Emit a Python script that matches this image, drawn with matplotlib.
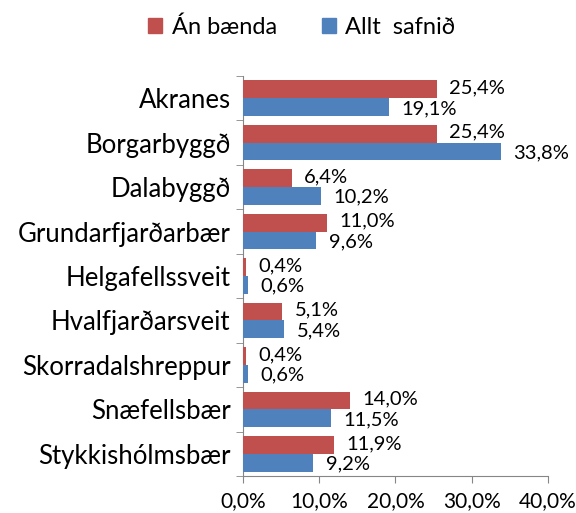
import matplotlib
matplotlib.use("Agg")
import matplotlib.pyplot as plt
import numpy as np
from matplotlib.patches import Patch
from matplotlib.ticker import FuncFormatter, MultipleLocator, FixedLocator

RED = "#C0504D"
BLUE = "#4F81BD"
AXIS = "#868686"

categories = ["Akranes", "Borgarbyggð", "Dalabyggð", "Grundarfjarðarbær",
              "Helgafellssveit", "Hvalfjarðarsveit", "Skorradalshreppur",
              "Snæfellsbær", "Stykkishólmsbær"]
an_baenda = [25.4, 25.4, 6.4, 11.0, 0.4, 5.1, 0.4, 14.0, 11.9]
allt_safnid = [19.1, 33.8, 10.2, 9.6, 0.6, 5.4, 0.6, 11.5, 9.2]
series_names = ["Án bænda", "Allt  safnið"]

plt.rcParams.update({
    "font.family": ["Lato", "DejaVu Sans"],
    "font.size": 14,
})

fig = plt.figure(figsize=(5.76, 5.13), dpi=100)
ax = fig.add_axes([0.422, 0.072, 0.529, 0.780])

n = len(categories)
y = np.arange(n)
h = 0.4
bars_r = ax.barh(y - h / 2, an_baenda, height=h, color=RED, zorder=3)
bars_b = ax.barh(y + h / 2, allt_safnid, height=h, color=BLUE, zorder=3)


def pct(v):
    return f"{v:.1f}%".replace(".", ",")


for bars, vals, dy in ((bars_r, an_baenda, 1), (bars_b, allt_safnid, -1)):
    for b, v in zip(bars, vals):
        ax.annotate(pct(v), (v, b.get_y() + b.get_height() / 2),
                    xytext=(9, dy), textcoords="offset points",
                    ha="left", va="center", fontsize=14.5)

ax.set_ylim(n - 0.5, -0.5)
ax.set_xlim(0, 40)
ax.xaxis.set_major_locator(MultipleLocator(10))
ax.xaxis.set_major_formatter(FuncFormatter(lambda v, p: pct(v)))
ax.set_yticks(y)
ax.set_yticklabels(categories, fontsize=18.5)
ax.yaxis.set_minor_locator(FixedLocator(np.arange(-0.5, n, 1.0)))
ax.tick_params(axis="y", which="major", length=0, pad=9)
ax.tick_params(axis="y", which="minor", length=5, color=AXIS, direction="out")
ax.tick_params(axis="x", length=5, color=AXIS, direction="out", labelsize=15, pad=6)
for s in ("top", "right"):
    ax.spines[s].set_visible(False)
for s in ("left", "bottom"):
    ax.spines[s].set_color(AXIS)

handles = [Patch(color=RED, label=series_names[0]),
           Patch(color=BLUE, label=series_names[1])]
fig.legend(handles=handles, loc="upper center", bbox_to_anchor=(0.524, 1.01),
           ncol=2, frameon=False, fontsize=17, handlelength=0.6,
           handleheight=0.6, handletextpad=0.4, columnspacing=1.9)

fig.savefig("out.png", dpi=100)
